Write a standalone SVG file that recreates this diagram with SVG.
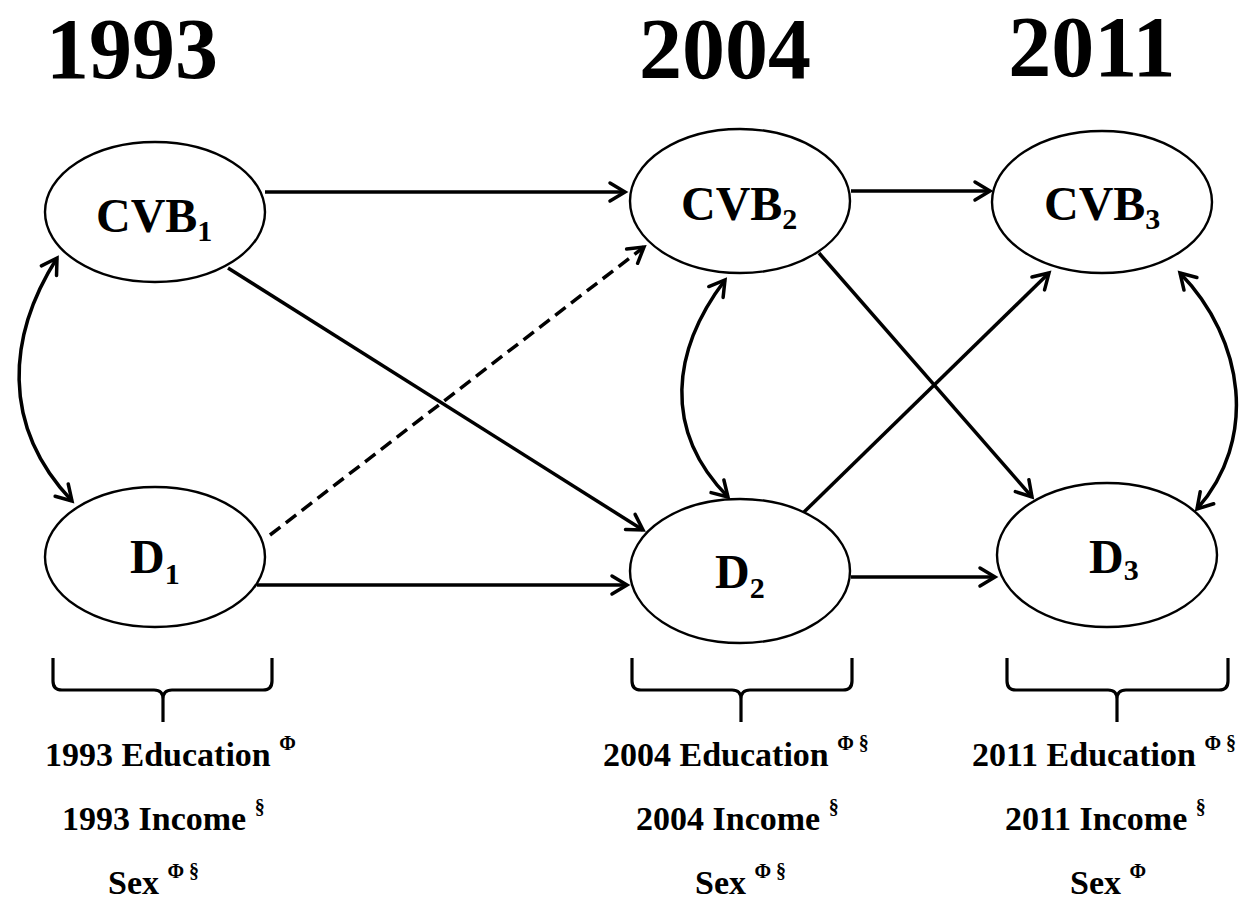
<svg xmlns="http://www.w3.org/2000/svg" width="1253" height="900" viewBox="0 0 1253 900">
<style>
.title{font-family:"Liberation Serif","Times New Roman",serif;font-weight:bold;font-size:86px;fill:#000;text-anchor:middle}
.lab{font-family:"Liberation Serif","Times New Roman",serif;font-weight:bold;font-size:48px;fill:#000}
.sub{font-size:30px}
.cov{font-family:"Liberation Serif","Times New Roman",serif;font-weight:bold;font-size:34px;fill:#000}
.sup{font-size:20px}
.node{fill:#fff;stroke:#000;stroke-width:2.4}
.edge{fill:none;stroke:#000;stroke-width:3.5;marker-end:url(#ah)}
.dbl{fill:none;stroke:#000;stroke-width:3.5;marker-start:url(#ah);marker-end:url(#ah)}
.dash{stroke-dasharray:13 7}
.brace{fill:none;stroke:#000;stroke-width:3.2}
</style>
<defs>
<marker id="ah" markerUnits="userSpaceOnUse" viewBox="-20 -12 22 24" markerWidth="22" markerHeight="24" refX="0" refY="0" orient="auto-start-reverse" overflow="visible">
<path d="M-15,-9 L0,0 L-15,9" fill="none" stroke="#000" stroke-width="3.5" stroke-dasharray="none" stroke-linecap="round" stroke-linejoin="miter"/>
</marker>
</defs>
<rect width="1253" height="900" fill="#fff"/>
<g id="titles">
<text class="title" x="132" y="78">1993</text>
<text class="title" x="725" y="78">2004</text>
<text class="title" x="1092" y="76" font-size="84">2011</text>
</g>
<g id="connectors">
<line class="edge" x1="265" y1="192" x2="625" y2="192"/>
<line class="edge" x1="851" y1="191" x2="990" y2="191"/>
<line class="edge" x1="257" y1="585" x2="627" y2="585"/>
<line class="edge" x1="851" y1="577" x2="995" y2="577"/>
<line class="edge" x1="228" y1="268" x2="643" y2="530"/>
<line class="edge dash" x1="270" y1="535" x2="644" y2="247"/>
<line class="edge" x1="819" y1="253" x2="1032" y2="497"/>
<line class="edge" x1="803" y1="513" x2="1049" y2="273"/>
<path class="dbl" d="M57,258 C8,335 0,425 72,501"/>
<path class="dbl" d="M725,280 C672,350 662,430 728,497"/>
<path class="dbl" d="M1180,273 C1245,340 1258,440 1197,509"/>
</g>
<g id="CVB1">
<ellipse class="node" cx="155" cy="212" rx="110" ry="70"/>
<text class="lab" x="96" y="232">CVB<tspan class="sub" dy="9">1</tspan></text>
</g>
<g id="CVB2">
<ellipse class="node" cx="740" cy="201" rx="110" ry="72"/>
<text class="lab" x="681" y="220">CVB<tspan class="sub" dy="9">2</tspan></text>
</g>
<g id="CVB3">
<ellipse class="node" cx="1102" cy="202" rx="110" ry="71"/>
<text class="lab" x="1044" y="220">CVB<tspan class="sub" dy="9">3</tspan></text>
</g>
<g id="D1">
<ellipse class="node" cx="155" cy="557" rx="110" ry="70"/>
<text class="lab" x="130" y="573">D<tspan class="sub" dy="11">1</tspan></text>
</g>
<g id="D2">
<ellipse class="node" cx="740" cy="571" rx="110" ry="72"/>
<text class="lab" x="715" y="588">D<tspan class="sub" dy="10">2</tspan></text>
</g>
<g id="D3">
<ellipse class="node" cx="1107" cy="555" rx="110" ry="72"/>
<text class="lab" x="1089" y="573">D<tspan class="sub" dy="7">3</tspan></text>
</g>
<g id="covariates1993">
<path class="brace" d="M53,658 L53,681 Q53,690 62,690 L154,690 Q163,690 163,699 L163,722 M163,699 Q163,690 172,690 L263,690 Q272,690 272,681 L272,658"/>
<text class="cov" x="45" y="766">1993 Education <tspan class="sup" dy="-16">Φ</tspan></text>
<text class="cov" x="62" y="830">1993 Income <tspan class="sup" dy="-16">§</tspan></text>
<text class="cov" x="108" y="894">Sex <tspan class="sup" dy="-16">Φ §</tspan></text>
</g>
<g id="covariates2004">
<path class="brace" d="M632,658 L632,681 Q632,690 641,690 L732,690 Q741,690 741,699 L741,722 M741,699 Q741,690 750,690 L843,690 Q852,690 852,681 L852,658"/>
<text class="cov" x="603" y="766">2004 Education <tspan class="sup" dy="-16">Φ §</tspan></text>
<text class="cov" x="636" y="830">2004 Income <tspan class="sup" dy="-16">§</tspan></text>
<text class="cov" x="695" y="894">Sex <tspan class="sup" dy="-16">Φ §</tspan></text>
</g>
<g id="covariates2011">
<path class="brace" d="M1007,658 L1007,681 Q1007,690 1016,690 L1108,690 Q1117,690 1117,699 L1117,722 M1117,699 Q1117,690 1126,690 L1219,690 Q1228,690 1228,681 L1228,658"/>
<text class="cov" x="972" y="766">2011 Education <tspan class="sup" dy="-16">Φ §</tspan></text>
<text class="cov" x="1005" y="830">2011 Income <tspan class="sup" dy="-16">§</tspan></text>
<text class="cov" x="1070" y="894">Sex <tspan class="sup" dy="-16">Φ</tspan></text>
</g>
</svg>
